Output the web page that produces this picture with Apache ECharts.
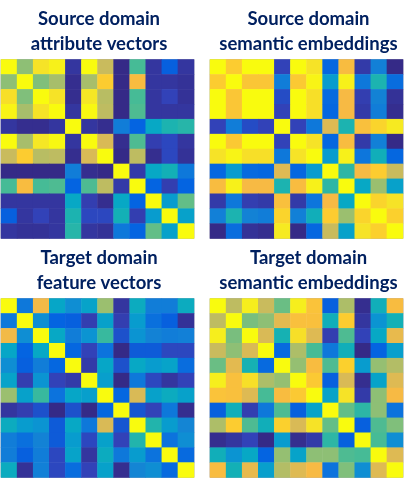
<!DOCTYPE html>
<html>
<head>
<meta charset="utf-8">
<title>Similarity matrices</title>
<script src="https://cdn.jsdelivr.net/npm/echarts@6/dist/echarts.min.js"></script>
<style>
  html, body { margin: 0; padding: 0; background: #fff; }
  #chart { width: 408px; height: 479px; }
</style>
</head>
<body>
<div id="chart"></div>
<script>
// 12 classes on both axes
const classes = ['1', '2', '3', '4', '5', '6', '7', '8', '9', '10', '11', '12']

// similarity values
const sourceAttributes = [
  [1, .62, .93, .97, .03, 1, .72, 0, .52, .03, .12, .03],
  [.62, 1, .6, .66, .01, .66, .87, 0, .82, .03, .03, .02],
  [.92, .6, 1, .93, .01, .94, .69, 0, .52, .03, .06, .02],
  [.98, .66, .93, 1, .03, .99, .7, 0, .53, .03, .03, .03],
  [.03, .01, .01, .03, 1, .03, .01, .22, .13, .38, .45, .47],
  [1, .66, .94, .99, .03, 1, .75, .01, .53, .05, .07, .03],
  [.72, .87, .69, .7, .01, .75, 1, 0, .7, .01, .07, .02],
  [0, 0, 0, 0, .22, .01, 0, 1, .04, .38, .43, .2],
  [.52, .82, .52, .53, .13, .53, .7, .04, 1, .13, .05, .13],
  [.03, .03, .03, .03, .38, .05, .01, .38, .13, 1, .33, .56],
  [.12, .03, .06, .03, .45, .07, .07, .43, .05, .33, 1, .35],
  [.03, .02, .02, .03, .47, .03, .02, .2, .13, .56, .35, 1]
]
const sourceSemantic = [
  [1, .87, 1, 1, .06, 1, .93, .14, .82, .04, .23, 0],
  [.87, 1, .85, .85, .22, .86, .98, .33, .97, .2, .45, .16],
  [1, .85, 1, 1, .08, 1, .92, .15, .81, .05, .24, .02],
  [1, .85, 1, 1, .06, 1, .92, .14, .81, .04, .22, .01],
  [.06, .22, .08, .06, 1, .06, .2, .76, .45, .83, .89, .95],
  [1, .86, 1, 1, .06, 1, .93, .14, .82, .04, .23, 0],
  [.93, .98, .92, .92, .2, .93, 1, .33, .97, .19, .42, .14],
  [.14, .33, .15, .14, .76, .14, .33, 1, .48, .81, .87, .72],
  [.82, .97, .81, .81, .45, .82, .97, .48, 1, .38, .64, .35],
  [.04, .2, .05, .04, .83, .04, .19, .81, .38, 1, .89, .93],
  [.23, .45, .24, .22, .89, .23, .42, .87, .64, .89, 1, .88],
  [0, .16, .02, .01, .95, 0, .14, .72, .35, .93, .88, 1]
]
const targetFeatures = [
  [1, .2, .8, .37, .28, .36, .64, .03, .4, .22, .22, .4],
  [.2, 1, .28, .13, .12, .05, .35, .05, .33, .17, .12, .02],
  [.8, .28, 1, .38, .22, .3, .5, .09, .3, .24, .22, .23],
  [.37, .13, .38, 1, .14, .06, .18, 0, .11, .11, .07, .07],
  [.28, .12, .22, .14, 1, .04, .37, .09, .38, .33, .36, .16],
  [.36, .05, .3, .06, .04, 1, .34, 0, .2, .07, .03, .06],
  [.64, .35, .5, .18, .37, .34, 1, .14, .75, .35, .4, .35],
  [.03, .05, .09, 0, .09, 0, .14, 1, .1, .06, .2, .01],
  [.4, .33, .3, .11, .38, .2, .75, .1, 1, .46, .33, .25],
  [.22, .17, .24, .11, .33, .07, .35, .06, .46, 1, .18, .28],
  [.22, .12, .22, .07, .36, .03, .4, .2, .33, .18, 1, .15],
  [.4, .02, .23, .07, .16, .06, .35, .01, .25, .28, .15, 1]
]
const targetSemantic = [
  [1, .7, .96, .72, .57, .96, .84, .12, .67, .01, .42, .82],
  [.7, 1, .59, .62, .77, .83, .83, .42, .87, .03, .3, .43],
  [.96, .59, 1, .75, .44, .92, .76, .05, .53, .06, .38, .78],
  [.72, .62, .75, 1, .15, .67, .52, .2, .42, 0, .13, .34],
  [.57, .77, .44, .15, 1, .63, .82, .53, .88, .33, .63, .68],
  [.96, .83, .92, .67, .63, 1, .86, .12, .75, .01, .36, .76],
  [.84, .83, .76, .52, .82, .86, 1, .36, .93, .04, .62, .81],
  [.12, .42, .05, .2, .53, .12, .36, 1, .56, .48, .62, .18],
  [.67, .87, .53, .42, .88, .75, .93, .56, 1, .12, .53, .6],
  [.01, .03, .06, 0, .33, .01, .04, .48, .12, 1, .52, .28],
  [.42, .3, .38, .13, .63, .36, .62, .62, .53, .52, 1, .76],
  [.82, .43, .78, .34, .68, .76, .81, .18, .6, .28, .76, 1]
]

const panelTitles = [
  'Source domain\nattribute vectors',
  'Source domain\nsemantic embeddings',
  'Target domain\nfeature vectors',
  'Target domain\nsemantic embeddings'
]
const panelValues = [sourceAttributes, sourceSemantic, targetFeatures, targetSemantic]

// matlab parula
const parula = [
  '#352a87', '#3243ba', '#0363e1', '#0d75dc', '#1485d4', '#0998d1', '#06a7c6', '#15b1b4', '#38b99e',
  '#65be86', '#92bf73', '#b7bd64', '#d9ba56', '#f8ba43', '#fcce2e', '#f5e626', '#f9fb0e'
]

const panelLeft = [1, 210, 1, 210]
const panelTop = [59.5, 59.5, 298.5, 298.5]
const titleCenter = [94, 303.5, 94, 303.5]
const titleTop = [2, 2, 241, 241]

const chart = echarts.init(document.getElementById('chart'), null, { renderer: 'canvas' })

const option = {
  animation: false,
  backgroundColor: '#fff',
  title: panelTitles.map((text, i) => ({
    text,
    left: titleCenter[i],
    top: titleTop[i],
    textAlign: 'center',
    textStyle: {
      color: '#002060',
      fontFamily: 'Lato',
      fontWeight: 'bold',
      fontSize: 18.5,
      lineHeight: 25
    }
  })),
  visualMap: {
    show: false,
    min: 0,
    max: 1,
    inRange: { color: parula }
  },
  grid: panelValues.map((_, i) => ({
    left: panelLeft[i],
    top: panelTop[i],
    width: 193,
    height: 179,
    show: true,
    borderWidth: 1,
    borderColor: '#b4b4c0'
  })),
  xAxis: panelValues.map((_, i) => ({ type: 'category', gridIndex: i, data: classes, show: false })),
  yAxis: panelValues.map((_, i) => ({ type: 'category', gridIndex: i, data: classes, inverse: true, show: false })),
  series: panelValues.map((matrix, i) => ({
    type: 'heatmap',
    xAxisIndex: i,
    yAxisIndex: i,
    data: matrix.flatMap((row, y) => row.map((v, x) => [x, y, v]))
  }))
}

chart.setOption(option)
</script>
</body>
</html>
